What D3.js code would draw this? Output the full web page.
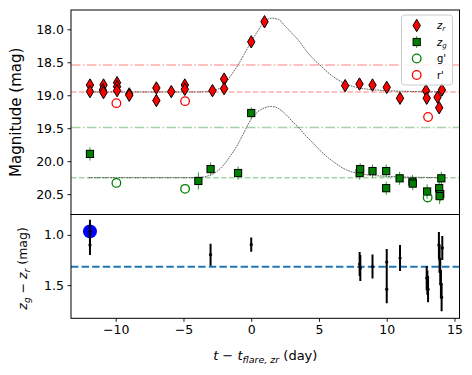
<!DOCTYPE html>
<html>
<head>
<meta charset="utf-8">
<script src="https://cdn.jsdelivr.net/npm/d3@7"></script>
<style>
  body { margin: 0; background: #fff; }
  text { font-family: "DejaVu Sans", sans-serif; }
</style>
</head>
<body>
<div id="chart"></div>
<script>

// z_r photometry (day, mag)
var rT   = [-11.9, -11.9, -10.9, -10.95, -10.9, -9.9, -9.9, -9.9, -9.0, -9.0, -7.0, -7.0, -5.9, -4.9, -4.9, -2.86, -2.0, -2.0, 0.0, 0.98, 6.93, 7.99, 8.95, 10.0, 10.98, 12.9, 12.95, 13.75, 14.07, 13.87]
var rMag = [18.845, 18.945, 18.845, 18.92, 18.96, 18.81, 18.87, 18.93, 18.98, 19.0, 18.89, 19.08, 18.945, 18.845, 18.91, 18.93, 18.755, 18.9, 18.19, 17.885, 18.855, 18.83, 18.845, 18.88, 19.045, 18.93, 19.045, 19.03, 18.92, 19.19]

// z_g photometry
var gT   = [-11.9, -3.9, -3.0, -0.97, 0.0, 8.0, 8.04, 8.95, 9.96, 9.96, 10.95, 11.9, 11.92, 12.98, 13.87, 13.95, 13.9, 14.03]
var gMag = [19.89, 20.30, 20.12, 20.18, 19.27, 20.18, 20.12, 20.15, 20.15, 20.41, 20.26, 20.31, 20.34, 20.46, 20.41, 20.50, 20.53, 20.26]
var gErr = [0.10, 0.13, 0.10, 0.10, 0.09, 0.10, 0.09, 0.10, 0.10, 0.10, 0.10, 0.10, 0.10, 0.11, 0.11, 0.11, 0.12, 0.10]

// g' and r' comparison points
var gpT   = [-9.95, -4.88, 13.02]
var gpMag = [20.33, 20.42, 20.55]
var rpT   = [-9.95, -4.88, 13.05]
var rpMag = [19.12, 19.09, 19.33]

// model curves
var modelT = [-12, -4, -3, -2.5, -2, -1.5, -1, -0.5, 0, 0.5, 1, 1.5, 2, 2.5, 3, 3.5, 4, 4.5, 5, 6, 7, 8, 10, 14]
var modelR = [18.95, 18.95, 18.94, 18.91, 18.85, 18.70, 18.55, 18.37, 18.19, 18.02, 17.88, 17.83, 17.85, 17.95, 18.06, 18.17, 18.31, 18.43, 18.53, 18.71, 18.83, 18.89, 18.93, 18.95]
var modelG = [20.25, 20.25, 20.21, 20.15, 20.05, 19.91, 19.75, 19.55, 19.36, 19.25, 19.19, 19.17, 19.20, 19.28, 19.39, 19.49, 19.61, 19.71, 19.82, 20.00, 20.13, 20.19, 20.23, 20.25]

// reference levels
var rLevels = [18.54, 18.95]
var gLevels = [19.49, 20.25]

// colour z_g - z_r
var cT   = [-11.9, -11.9, -3.0, 0.0, 8.0, 8.05, 8.95, 10.0, 10.0, 10.98, 12.95, 13.0, 13.05, 13.85, 13.9, 13.95, 14.0, 14.05, 14.1]
var cVal = [0.965, 1.10, 1.197, 1.097, 1.29, 1.33, 1.315, 1.27, 1.54, 1.23, 1.43, 1.475, 1.54, 1.10, 1.24, 1.36, 1.49, 1.62, 1.13]
var cErr = [0.115, 0.10, 0.11, 0.07, 0.12, 0.13, 0.12, 0.13, 0.14, 0.13, 0.12, 0.12, 0.13, 0.13, 0.14, 0.13, 0.14, 0.14, 0.12]
var blueT = [-11.9]
var blueVal = [0.965]
var cMean = 1.317

var xTicks = [-10, -5, 0, 5, 10, 15]
var y1Ticks = [18.0, 18.5, 19.0, 19.5, 20.0, 20.5]
var y2Ticks = [1.0, 1.5]

var W = 472, H = 375
var left = 71, right = 459.5
var top1 = 10, bot1 = 214.5, top2 = 214.5, bot2 = 318.3

var svg = d3.select("#chart").append("svg")
  .attr("width", W).attr("height", H)

var x = d3.scaleLinear().domain([-13.3, 15.37]).range([left, right])
var y1 = d3.scaleLinear().domain([17.707, 20.809]).range([top1, bot1])
var y2 = d3.scaleLinear().domain([0.797, 1.83]).range([top2, bot2])

svg.append("defs").append("clipPath").attr("id", "clip1")
  .append("rect").attr("x", left).attr("y", top1).attr("width", right - left).attr("height", bot1 - top1)
svg.select("defs").append("clipPath").attr("id", "clip2")
  .append("rect").attr("x", left).attr("y", top2).attr("width", right - left).attr("height", bot2 - top2)

// ---- top panel ----
var p1 = svg.append("g").attr("clip-path", "url(#clip1)")

var levelStyle = [
  { dash: "9.6,2.4,1.5,2.4" },
  { dash: "5.5,2.4" }
]
rLevels.forEach(function (v, i) {
  p1.append("line").attr("x1", left).attr("x2", right)
    .attr("y1", y1(v)).attr("y2", y1(v))
    .attr("stroke", "#ffaaaa").attr("stroke-width", 1.5)
    .attr("stroke-dasharray", levelStyle[i].dash)
})
gLevels.forEach(function (v, i) {
  p1.append("line").attr("x1", left).attr("x2", right)
    .attr("y1", y1(v)).attr("y2", y1(v))
    .attr("stroke", "#a6d3a6").attr("stroke-width", 1.5)
    .attr("stroke-dasharray", levelStyle[i].dash)
})

var modelLine = function (arr) {
  return d3.line()
    .x(function (d, i) { return x(modelT[i]) })
    .y(function (d) { return y1(d) })
    .curve(d3.curveMonotoneX)(arr)
}
;[modelR, modelG].forEach(function (arr) {
  p1.append("path").attr("d", modelLine(arr))
    .attr("fill", "none").attr("stroke", "#222")
    .attr("stroke-width", 0.7).attr("stroke-dasharray", "1.8,0.9")
})

// g error bars + squares
var gData = gT.map(function (t, i) { return { t: t, m: gMag[i], e: gErr[i] } })
p1.append("g").selectAll("line").data(gData).join("line")
  .attr("x1", d => x(d.t)).attr("x2", d => x(d.t))
  .attr("y1", d => y1(d.m - d.e)).attr("y2", d => y1(d.m + d.e))
  .attr("stroke", "#2ca02c").attr("stroke-width", 1)
p1.append("g").selectAll("rect").data(gData).join("rect")
  .attr("x", d => x(d.t) - 3.6).attr("y", d => y1(d.m) - 3.6)
  .attr("width", 7.2).attr("height", 7.2)
  .attr("fill", "green").attr("stroke", "black").attr("stroke-width", 1)

// r diamonds
var diamond = "M0,-6.2L3.7,0L0,6.2L-3.7,0Z"
var rData = rT.map(function (t, i) { return { t: t, m: rMag[i] } })
p1.append("g").selectAll("path").data(rData).join("path")
  .attr("d", diamond)
  .attr("transform", d => `translate(${x(d.t)},${y1(d.m)})`)
  .attr("fill", "red").attr("stroke", "black").attr("stroke-width", 1)

// open circles
var openPts = function (ts, ms, col) {
  p1.append("g").selectAll("circle").data(ts).join("circle")
    .attr("cx", d => x(d)).attr("cy", (d, i) => y1(ms[i]))
    .attr("r", 4.3).attr("fill", "none")
    .attr("stroke", col).attr("stroke-width", 1.3)
}
openPts(gpT, gpMag, "green")
openPts(rpT, rpMag, "red")

// ---- bottom panel ----
var p2 = svg.append("g").attr("clip-path", "url(#clip2)")

p2.append("line").attr("x1", left).attr("x2", right)
  .attr("y1", y2(cMean)).attr("y2", y2(cMean))
  .attr("stroke", "#1f77b4").attr("stroke-width", 2)
  .attr("stroke-dasharray", "7.4,3.2")

p2.selectAll("circle.blue").data(blueT).join("circle")
  .attr("class", "blue")
  .attr("cx", d => x(d)).attr("cy", (d, i) => y2(blueVal[i]))
  .attr("r", 7).attr("fill", "blue")

var cData = cT.map(function (t, i) { return { t: t, v: cVal[i], e: cErr[i] } })
p2.append("g").selectAll("line").data(cData).join("line")
  .attr("x1", d => x(d.t)).attr("x2", d => x(d.t))
  .attr("y1", d => y2(d.v - d.e)).attr("y2", d => y2(d.v + d.e))
  .attr("stroke", "black").attr("stroke-width", 2)
p2.append("g").selectAll("circle").data(cData).join("circle")
  .attr("cx", d => x(d.t)).attr("cy", d => y2(d.v))
  .attr("r", 1.6).attr("fill", "black")

// ---- frames and axes ----
svg.append("rect").attr("x", left).attr("y", top1)
  .attr("width", right - left).attr("height", bot1 - top1)
  .attr("fill", "none").attr("stroke", "black").attr("stroke-width", 1)
svg.append("rect").attr("x", left).attr("y", top2)
  .attr("width", right - left).attr("height", bot2 - top2)
  .attr("fill", "none").attr("stroke", "black").attr("stroke-width", 1)

var styleAxis = function (g) {
  g.select(".domain").remove()
  g.selectAll(".tick line").attr("stroke", "black").attr("stroke-width", 0.9)
  g.selectAll(".tick text").attr("fill", "black").attr("font-size", 12.5)
    .attr("font-family", "DejaVu Sans")
}

svg.append("g").attr("transform", `translate(${left},0)`)
  .call(d3.axisLeft(y1).tickValues(y1Ticks).tickFormat(d3.format(".1f")).tickSizeOuter(0).tickSize(3.5).tickPadding(3.5))
  .call(styleAxis)
svg.append("g").attr("transform", `translate(${left},0)`)
  .call(d3.axisLeft(y2).tickValues(y2Ticks).tickFormat(d3.format(".1f")).tickSizeOuter(0).tickSize(3.5).tickPadding(3.5))
  .call(styleAxis)
svg.append("g").attr("transform", `translate(0,${bot2})`)
  .call(d3.axisBottom(x).tickValues(xTicks).tickFormat(d3.format("d")).tickSizeOuter(0).tickSize(3.5).tickPadding(3.5))
  .call(styleAxis)

// axis labels
svg.append("text")
  .attr("transform", `translate(21,${(top1 + bot1) / 2}) rotate(-90)`)
  .attr("text-anchor", "middle").attr("font-size", 15)
  .text("Magnitude (mag)")

var yl2 = svg.append("text")
  .attr("transform", `translate(27,${(top2 + bot2) / 2 + 2}) rotate(-90)`)
  .attr("text-anchor", "middle").attr("font-size", 12.5)
yl2.append("tspan").attr("font-style", "italic").text("z")
yl2.append("tspan").attr("font-style", "italic").attr("font-size", 9).attr("dy", 3).text("g")
yl2.append("tspan").attr("dy", -3).text(" − ")
yl2.append("tspan").attr("font-style", "italic").text("z")
yl2.append("tspan").attr("font-style", "italic").attr("font-size", 9).attr("dy", 3).text("r")
yl2.append("tspan").attr("dy", -3).text(" (mag)")

var xl = svg.append("text")
  .attr("x", (left + right) / 2).attr("y", 360)
  .attr("text-anchor", "middle").attr("font-size", 13)
xl.append("tspan").attr("font-style", "italic").text("t")
xl.append("tspan").text(" − ")
xl.append("tspan").attr("font-style", "italic").text("t")
xl.append("tspan").attr("font-style", "italic").attr("font-size", 9.5).attr("dy", 3).text("flare, zr")
xl.append("tspan").attr("dy", -3).text(" (day)")

// ---- legend ----
var lg = svg.append("g")
lg.append("rect").attr("x", 401.5).attr("y", 15).attr("width", 51).attr("height", 70)
  .attr("rx", 3).attr("fill", "white").attr("fill-opacity", 0.8)
  .attr("stroke", "#ccc").attr("stroke-width", 1)

var legendRows = ["zr", "zg", "g'", "r'"]
var legendY = [25.5, 42, 58.5, 75]
var lx = 416.7, tx = 437
legendRows.forEach(function (name, i) {
  var yy = legendY[i]
  if (name === "zr") {
    lg.append("path").attr("d", diamond).attr("transform", `translate(${lx},${yy})`)
      .attr("fill", "red").attr("stroke", "black").attr("stroke-width", 1)
  } else if (name === "zg") {
    lg.append("line").attr("x1", lx).attr("x2", lx).attr("y1", yy - 6).attr("y2", yy + 6)
      .attr("stroke", "#2ca02c").attr("stroke-width", 1)
    lg.append("rect").attr("x", lx - 3.6).attr("y", yy - 3.6).attr("width", 7.2).attr("height", 7.2)
      .attr("fill", "green").attr("stroke", "black").attr("stroke-width", 1)
  } else {
    lg.append("circle").attr("cx", lx).attr("cy", yy).attr("r", 4.3)
      .attr("fill", "none").attr("stroke", name === "g'" ? "green" : "red").attr("stroke-width", 1.3)
  }
  var t = lg.append("text").attr("x", tx).attr("y", yy + 3.5).attr("font-size", 10)
  if (name === "zr" || name === "zg") {
    t.append("tspan").attr("font-style", "italic").text("z")
    t.append("tspan").attr("font-style", "italic").attr("font-size", 7).attr("dy", 2).text(name.charAt(1))
  } else {
    t.text(name)
  }
})

</script>
</body>
</html>
